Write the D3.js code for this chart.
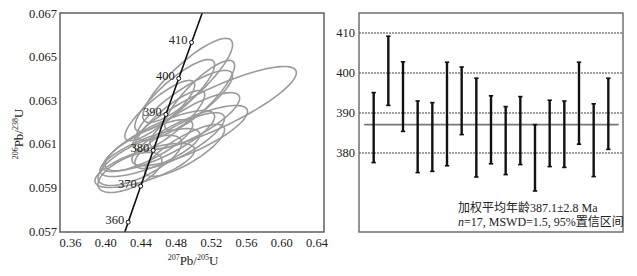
<!DOCTYPE html>
<html>
<head>
<meta charset="utf-8">
<script src="https://cdn.jsdelivr.net/npm/d3@7"></script>
<style>
  body { margin: 0; background: #fff; }
  svg text { font-family: "Liberation Serif", "Noto Sans CJK SC", serif; fill: #222; }
</style>
</head>
<body>
<div id="chart"></div>
<script>
// concordia ages and ratios
const concAges = [350, 360, 370, 380, 390, 400, 410, 420];
const concX = [0.4116, 0.4255, 0.4397, 0.4539, 0.4683, 0.4829, 0.4975, 0.5123];
const concY = [0.05579, 0.05743, 0.05908, 0.06072, 0.06237, 0.06402, 0.06567, 0.06732];
const labelAges = [360, 370, 380, 390, 400, 410];

// error ellipses (center, half-widths, correlation)
const ellX   = [0.5237, 0.4931, 0.4954, 0.4897, 0.4388, 0.4274, 0.4784, 0.4614, 0.4501, 0.4727, 0.4840, 0.4478, 0.5011, 0.5067, 0.4614, 0.4444, 0.4897];
const ellSX  = [0.0929, 0.0510, 0.0657, 0.0544, 0.0476, 0.0363, 0.0453, 0.0623, 0.0567, 0.0397, 0.0510, 0.0510, 0.0510, 0.0397, 0.0397, 0.0567, 0.0453];
const ellY   = [0.06264, 0.06393, 0.06140, 0.06278, 0.06026, 0.05971, 0.06324, 0.06117, 0.06062, 0.06209, 0.06117, 0.06094, 0.06209, 0.06324, 0.06255, 0.06003, 0.06072];
const ellSY  = [0.00193, 0.00193, 0.00138, 0.00161, 0.00115, 0.00092, 0.00165, 0.00138, 0.00110, 0.00138, 0.00128, 0.00119, 0.00128, 0.00161, 0.00138, 0.00101, 0.00119];
const ellRho = [0.85, 0.85, 0.80, 0.85, 0.70, 0.60, 0.85, 0.80, 0.75, 0.85, 0.80, 0.80, 0.80, 0.85, 0.85, 0.70, 0.80];

const xTicks = [0.36, 0.40, 0.44, 0.48, 0.52, 0.56, 0.60, 0.64];
const yTicks = [0.057, 0.059, 0.061, 0.063, 0.065, 0.067];

// weighted mean plot
const ageTop    = [395.1, 409.2, 402.8, 393.0, 392.6, 402.7, 401.5, 398.7, 394.3, 391.6, 394.1, 387.1, 393.2, 393.0, 402.7, 392.3, 398.7];
const ageBottom = [377.6, 391.9, 385.4, 375.1, 375.4, 376.8, 384.6, 374.0, 377.3, 374.6, 377.1, 370.5, 376.6, 376.4, 382.2, 374.1, 380.9];
const ageTicks = [380, 390, 400, 410];
const meanAge = 387.1;

const svg = d3.select("#chart").append("svg")
    .attr("width", 637).attr("height", 276);

// ---- LEFT: concordia ----
const x1 = d3.scaleLinear().domain([0.348, 0.648]).range([60, 324]);
const y1 = d3.scaleLinear().domain([0.057, 0.067]).range([231.5, 13.5]);

svg.append("clipPath").attr("id", "clipL")
    .append("rect").attr("x", 60).attr("y", 13).attr("width", 264).attr("height", 219);

const gL = svg.append("g");

const ellPts = i => d3.range(0, 361, 4).map(a => {
    const t = a * Math.PI / 180;
    const r = ellRho[i];
    return [x1(ellX[i] + ellSX[i] * Math.cos(t)),
            y1(ellY[i] + ellSY[i] * (r * Math.cos(t) + Math.sqrt(1 - r * r) * Math.sin(t)))];
});

gL.append("g").attr("clip-path", "url(#clipL)")
    .selectAll("path.ell")
    .data(d3.range(ellX.length))
    .enter().append("path")
    .attr("class", "ell")
    .attr("d", i => d3.line().curve(d3.curveLinearClosed)(ellPts(i)))
    .attr("fill", "none")
    .attr("stroke", "#9b9b9b")
    .attr("stroke-width", 1.6);

const conc = concAges.map((a, i) => ({ age: a, x: concX[i], y: concY[i] }));
gL.append("path")
    .datum(conc)
    .attr("clip-path", "url(#clipL)")
    .attr("d", d3.line().curve(d3.curveMonotoneX).x(d => x1(d.x)).y(d => y1(d.y)))
    .attr("fill", "none")
    .attr("stroke", "#111")
    .attr("stroke-width", 1.6);

const marks = conc.filter(d => labelAges.includes(d.age));
gL.selectAll("circle.mk").data(marks).enter().append("circle")
    .attr("cx", d => x1(d.x)).attr("cy", d => y1(d.y)).attr("r", 2)
    .attr("fill", "#fff").attr("stroke", "#111").attr("stroke-width", 1);
gL.selectAll("text.mk").data(marks).enter().append("text")
    .attr("x", d => x1(d.x) - 4).attr("y", d => y1(d.y) - 1)
    .attr("text-anchor", "end").attr("dominant-baseline", "middle")
    .attr("font-size", 12.5)
    .text(d => d.age);

gL.append("rect").attr("x", 60).attr("y", 13).attr("width", 264).attr("height", 219)
    .attr("fill", "none").attr("stroke", "#555").attr("stroke-width", 1.4);

gL.selectAll("text.xt").data(xTicks).enter().append("text")
    .attr("x", d => x1(d)).attr("y", 247)
    .attr("text-anchor", "middle").attr("font-size", 12.5)
    .text(d => d3.format(".2f")(d));
gL.selectAll("text.yt").data(yTicks).enter().append("text")
    .attr("x", 57).attr("y", d => y1(d) + 4)
    .attr("text-anchor", "end").attr("font-size", 12.5)
    .text(d => d3.format(".3f")(d));

const xt = gL.append("text").attr("x", 193).attr("y", 265).attr("text-anchor", "middle").attr("font-size", 13);
xt.append("tspan").attr("font-size", 8).attr("dy", -5).text("207");
xt.append("tspan").attr("dy", 5).text("Pb/");
xt.append("tspan").attr("font-size", 8).attr("dy", -5).text("205");
xt.append("tspan").attr("dy", 5).text("U");

const yt = gL.append("text").attr("transform", "translate(23,134) rotate(-90)")
    .attr("text-anchor", "middle").attr("font-size", 13);
yt.append("tspan").attr("font-size", 8).attr("dy", -5).text("206");
yt.append("tspan").attr("dy", 5).text("Pb/");
yt.append("tspan").attr("font-size", 8).attr("dy", -5).text("238");
yt.append("tspan").attr("dy", 5).text("U");

// ---- RIGHT: weighted mean ----
const x2 = d3.scaleLinear().domain([0, 18]).range([359, 623]);
const y2 = d3.scaleLinear().domain([360, 415]).range([233, 13]);
const gR = svg.append("g");

gR.selectAll("line.grid").data(ageTicks).enter().append("line")
    .attr("x1", 359).attr("x2", 623)
    .attr("y1", d => y2(d)).attr("y2", d => y2(d))
    .attr("stroke", "#444").attr("stroke-width", 1).attr("stroke-dasharray", "2,1");

gR.append("line")
    .attr("x1", x2(0.35)).attr("x2", x2(17.7))
    .attr("y1", y2(meanAge)).attr("y2", y2(meanAge))
    .attr("stroke", "#777").attr("stroke-width", 1.6);

const bars = ageTop.map((t, i) => ({ i: i + 1, top: t, bot: ageBottom[i] }));
const gb = gR.selectAll("g.bar").data(bars).enter().append("g");
gb.append("line")
    .attr("x1", d => x2(d.i)).attr("x2", d => x2(d.i))
    .attr("y1", d => y2(d.top)).attr("y2", d => y2(d.bot))
    .attr("stroke", "#111").attr("stroke-width", 2.4);
gb.append("line")
    .attr("x1", d => x2(d.i) - 2.2).attr("x2", d => x2(d.i) + 2.2)
    .attr("y1", d => y2(d.top)).attr("y2", d => y2(d.top))
    .attr("stroke", "#111").attr("stroke-width", 1.6);
gb.append("line")
    .attr("x1", d => x2(d.i) - 2.2).attr("x2", d => x2(d.i) + 2.2)
    .attr("y1", d => y2(d.bot)).attr("y2", d => y2(d.bot))
    .attr("stroke", "#111").attr("stroke-width", 1.6);

gR.append("rect").attr("x", 359).attr("y", 13).attr("width", 264).attr("height", 219)
    .attr("fill", "none").attr("stroke", "#666").attr("stroke-width", 1.4);

gR.selectAll("text.yt").data(ageTicks).enter().append("text")
    .attr("x", 355).attr("y", d => y2(d) + 4)
    .attr("text-anchor", "end").attr("font-size", 12.5)
    .text(d => d);

gR.append("text").attr("x", 458).attr("y", 212).attr("font-size", 12)
    .text("加权平均年龄387.1±2.8 Ma");
const t2 = gR.append("text").attr("x", 458).attr("y", 226).attr("font-size", 12);
t2.append("tspan").attr("font-style", "italic").text("n");
t2.append("tspan").text("=17, MSWD=1.5, 95%置信区间");
</script>
</body>
</html>
